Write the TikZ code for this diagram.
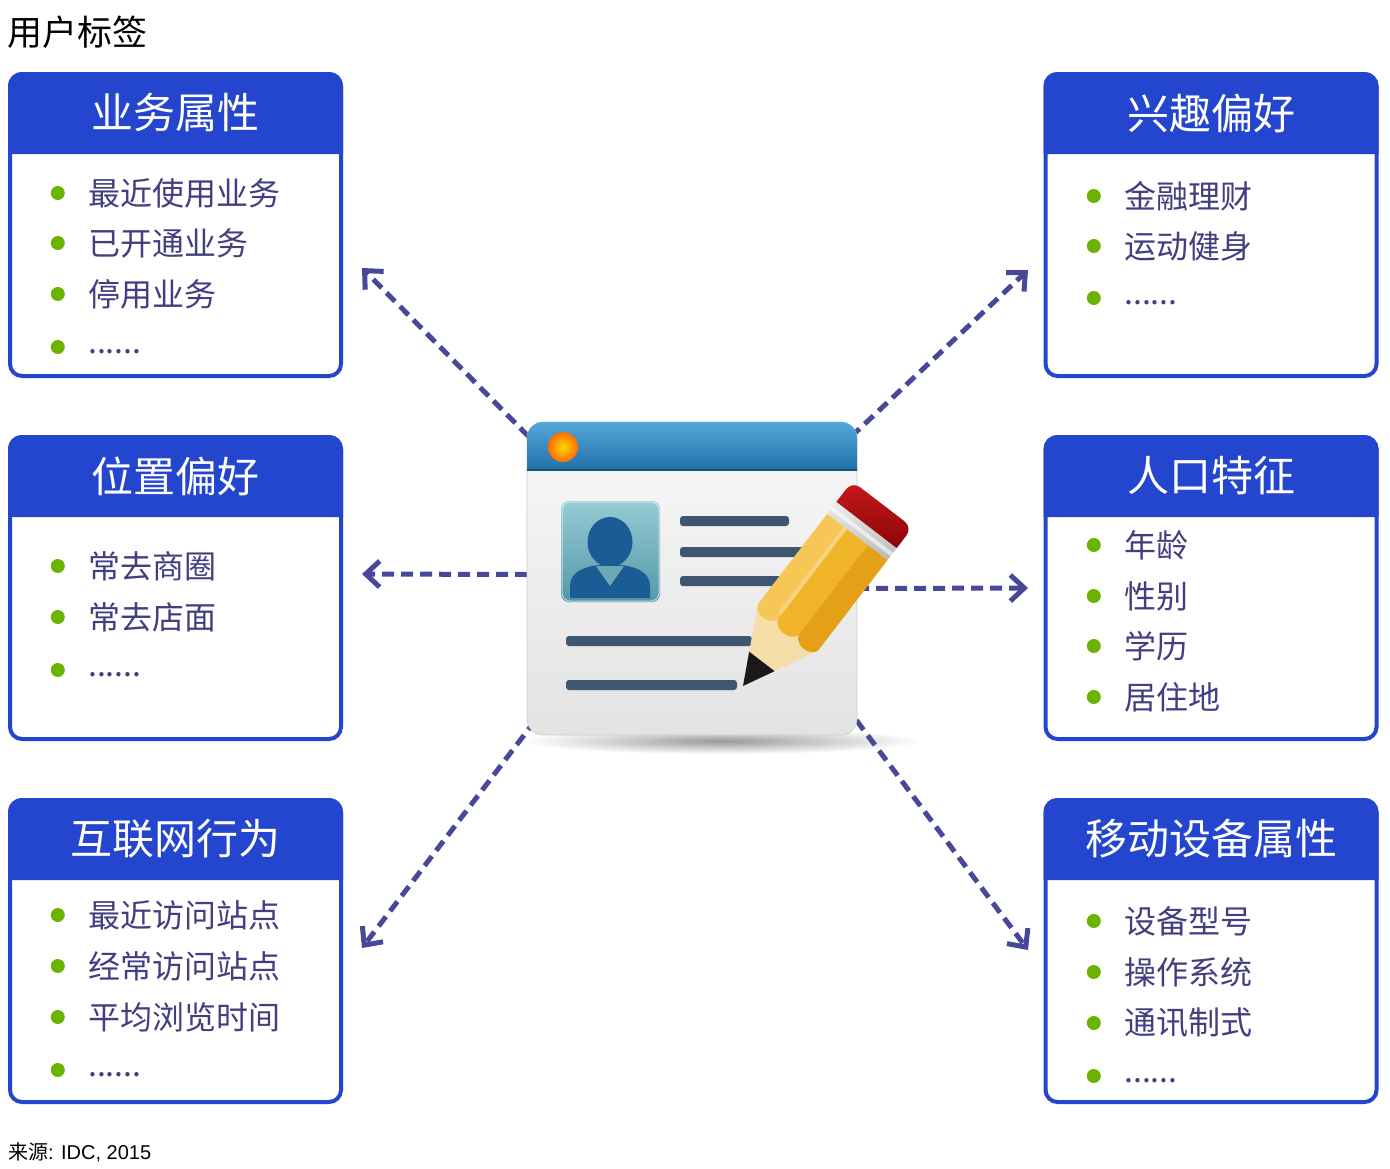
\documentclass[tikz,border=0pt]{standalone}
\usepackage{fontspec}
\setmainfont{Liberation Sans}
\newfontfamily\cjk{Noto Sans CJK SC}
\usetikzlibrary{positioning, arrows.meta, backgrounds}

\definecolor{headblue}{RGB}{36,70,206}
\definecolor{itemtext}{RGB}{66,62,128}
\definecolor{bulletgreen}{RGB}{108,178,0}
\definecolor{linkblue}{RGB}{72,72,152}
\definecolor{bartop}{RGB}{84,168,218}
\definecolor{barbottom}{RGB}{34,112,170}
\definecolor{cardline}{RGB}{62,86,112}
\definecolor{phototop}{RGB}{150,202,212}
\definecolor{photobottom}{RGB}{84,152,168}
\definecolor{personblue}{RGB}{26,92,150}
\definecolor{pencillight}{RGB}{246,198,86}
\definecolor{pencilmid}{RGB}{240,180,40}
\definecolor{pencildark}{RGB}{228,160,22}
\definecolor{wood}{RGB}{245,222,168}
\definecolor{eraserlight}{RGB}{200,26,26}
\definecolor{eraserdark}{RGB}{140,4,8}

\tikzset{
  tagbox/.style={draw=headblue, fill=white, line width=4pt, rounded corners=12pt,
    minimum width=331pt, minimum height=302pt, outer sep=0pt},
  headtext/.style={text=white, inner sep=0pt, font=\cjk\fontsize{42}{42}\selectfont},
  item/.style={anchor=west, inner sep=0pt, text=itemtext,
    font=\cjk\fontsize{32}{32}\selectfont},
  bullet/.style={circle, fill=bulletgreen, inner sep=0pt, minimum size=14pt},
  entry/.style={item, label={[bullet, xshift=-23pt]left:{}}},
  more/.style={item, label={[bullet, xshift=-23pt, yshift=5pt]left:{}}},
  link/.style={linkblue, line width=5pt, dash pattern=on 12pt off 7pt,
    -{Straight Barb[length=14pt, width=26pt]}},
  cardbody/.style={rectangle, rounded corners=16pt, minimum width=330pt,
    minimum height=313pt, outer sep=0pt, top color=gray!5, bottom color=gray!22,
    draw=gray!40, line width=0.6pt},
}

\begin{document}
\begin{tikzpicture}[x=1pt, y=-1pt]
    \useasboundingbox (0,0) rectangle (1390,1168);
    % Titulo y fuente
    \node[anchor=west, inner sep=0pt, font=\cjk\fontsize{35}{35}\selectfont] (title) at (7,32) {用户标签};
    \node[anchor=west, inner sep=0pt, font=\fontsize{20}{20}\selectfont] (source) at (8,1152) {{\cjk 来源}: IDC, 2015};

    % Cajas
    \node[tagbox] (yewu) at (175.5,225) {};
    \node[tagbox, below=61pt of yewu] (weizhi) {};
    \node[tagbox, below=61pt of weizhi] (hulian) {};
    \node[tagbox, right=704.5pt of yewu] (xingqu) {};
    \node[tagbox, right=704.5pt of weizhi] (renkou) {};
    \node[tagbox, right=704.5pt of hulian] (yidong) {};
    % Cabeceras
    \foreach \b in {yewu, weizhi, hulian, xingqu, renkou, yidong}
      \filldraw[headblue, line width=4pt] ([yshift=-78pt]\b.north west) [rounded corners=12pt]
        -- (\b.north west) -- (\b.north east) [sharp corners] -- ([yshift=-78pt]\b.north east) -- cycle;
    \node[headtext] (yewu-t) at ([yshift=-39pt]yewu.north) {业务属性};
    \node[headtext] (weizhi-t) at ([yshift=-39pt]weizhi.north) {位置偏好};
    \node[headtext] (hulian-t) at ([yshift=-39pt]hulian.north) {互联网行为};
    \node[headtext] (xingqu-t) at ([yshift=-39pt]xingqu.north) {兴趣偏好};
    \node[headtext] (renkou-t) at ([yshift=-39pt]renkou.north) {人口特征};
    \node[headtext] (yidong-t) at ([yshift=-39pt]yidong.north) {移动设备属性};

    % Etiquetas izquierda
    \node[entry] (yewu-1) at (88,193) {最近使用业务};
    \node[entry] (yewu-2) at (88,243) {已开通业务};
    \node[entry] (yewu-3) at (88,294) {停用业务};
    \node[more]  (yewu-4) at (88,352) {......};
    \node[entry] (weizhi-1) at (88,566) {常去商圈};
    \node[entry] (weizhi-2) at (88,617) {常去店面};
    \node[more]  (weizhi-3) at (88,675) {......};
    \node[entry] (hulian-1) at (88,915) {最近访问站点};
    \node[entry] (hulian-2) at (88,966) {经常访问站点};
    \node[entry] (hulian-3) at (88,1017) {平均浏览时间};
    \node[more]  (hulian-4) at (88,1075) {......};
    % Etiquetas derecha
    \node[entry] (xingqu-1) at (1124,196) {金融理财};
    \node[entry] (xingqu-2) at (1124,246) {运动健身};
    \node[more]  (xingqu-3) at (1124,303) {......};
    \node[entry] (renkou-1) at (1124,545) {年龄};
    \node[entry] (renkou-2) at (1124,596) {性别};
    \node[entry] (renkou-3) at (1124,646) {学历};
    \node[entry] (renkou-4) at (1124,697) {居住地};
    \node[entry] (yidong-1) at (1124,921) {设备型号};
    \node[entry] (yidong-2) at (1124,972) {操作系统};
    \node[entry] (yidong-3) at (1124,1023) {通讯制式};
    \node[more]  (yidong-4) at (1124,1081) {......};

    % Tarjeta
    \node[cardbody] (card) at (692,578.5) {};
    % Sombra y flechas (debajo de la tarjeta)
    \coordinate (yewu-in) at (362,268);
    \coordinate (weizhi-in) at (362,574);
    \coordinate (hulian-in) at (362,948);
    \coordinate (xingqu-in) at (1028,270);
    \coordinate (renkou-in) at (1028,588);
    \coordinate (yidong-in) at (1028,950);
    \begin{scope}[on background layer]
      \shade[inner color=gray!80, outer color=white] (722,741) ellipse (200pt and 13pt);
      \draw[link] ([shift={(15pt,-28pt)}]card.north west) -- (yewu-in);
      \draw[link] ([yshift=4pt]card.west) -- (weizhi-in);
      \draw[link] ([shift={(20pt,30pt)}]card.south west) -- (hulian-in);
      \draw[link] ([shift={(-20pt,-28pt)}]card.north east) -- (xingqu-in);
      \draw[link] ([yshift=-10pt]card.east) -- (renkou-in);
      \draw[link] ([shift={(-12pt,30pt)}]card.south east) -- (yidong-in);
    \end{scope}
    % Barra de titulo
    \shade[top color=bartop, bottom color=barbottom] ([yshift=-48pt]card.north west) [rounded corners=16pt]
      -- (card.north west) -- (card.north east) [sharp corners] -- ([yshift=-48pt]card.north east) -- cycle;
    \draw[barbottom!70!black, line width=1.5pt] ([yshift=-48pt]card.north west) -- ([yshift=-48pt]card.north east);
    \shade[inner color=yellow!70!orange, outer color=orange!85!red] (563,447) circle (15pt);
    % Foto
    \shade[top color=phototop, bottom color=photobottom, rounded corners=8pt] (561,501) rectangle (660,602);
    \draw[white, opacity=0.6, line width=1pt, rounded corners=8pt] (562,502) rectangle (659,601);
    \fill[personblue] (570,598) -- (570,586) .. controls (570,572) and (584,567) .. (598,565)
      -- (622,565) .. controls (636,567) and (650,572) .. (650,586) -- (650,598) -- cycle;
    \fill[personblue] (610,542) ellipse (22.5pt and 25pt);
    \fill[photobottom!85!white] (596,566) -- (610,586) -- (624,566) -- cycle;
    % Lineas de texto
    \fill[cardline, rounded corners=3pt] (680,516) rectangle (789,526);
    \fill[cardline, rounded corners=3pt] (680,547) rectangle (805,557);
    \fill[cardline, rounded corners=3pt] (680,576) rectangle (790,586);
    \fill[cardline, rounded corners=3pt] (566,636) rectangle (752,646);
    \fill[cardline, rounded corners=3pt] (566,680) rectangle (737,690);

    % Lapiz
    \begin{scope}[shift={(743,686)}, rotate=52.5, y=1pt]
      \fill[wood] (0,0) -- (74,38) -- (74,-38) -- cycle;
      \fill[black!90] (0,0) -- (31,16) -- (31,-16) -- cycle;
      \fill[pencillight] (188,38) -- (74,38) .. controls (64,35) and (64,17) .. (74,13) -- (188,13) -- cycle;
      \fill[pencilmid] (188,13) -- (74,13) .. controls (64,9) and (64,-9) .. (74,-13) -- (188,-13) -- cycle;
      \fill[pencildark] (188,-13) -- (74,-13) .. controls (64,-17) and (64,-35) .. (74,-38) -- (188,-38) -- cycle;
      \fill[white, opacity=0.25] (80,13) rectangle (188,17);
      \shade[top color=gray!15, bottom color=gray!55] (188,-38) rectangle (203,38);
      \fill[white, opacity=0.6] (193,-38) rectangle (197,38);
      \shade[top color=eraserlight, bottom color=eraserdark] (203,-38) [rounded corners=10pt]
        -- (229,-38) -- (229,38) [sharp corners] -- (203,38) -- cycle;
    \end{scope}
\end{tikzpicture}
\end{document}
